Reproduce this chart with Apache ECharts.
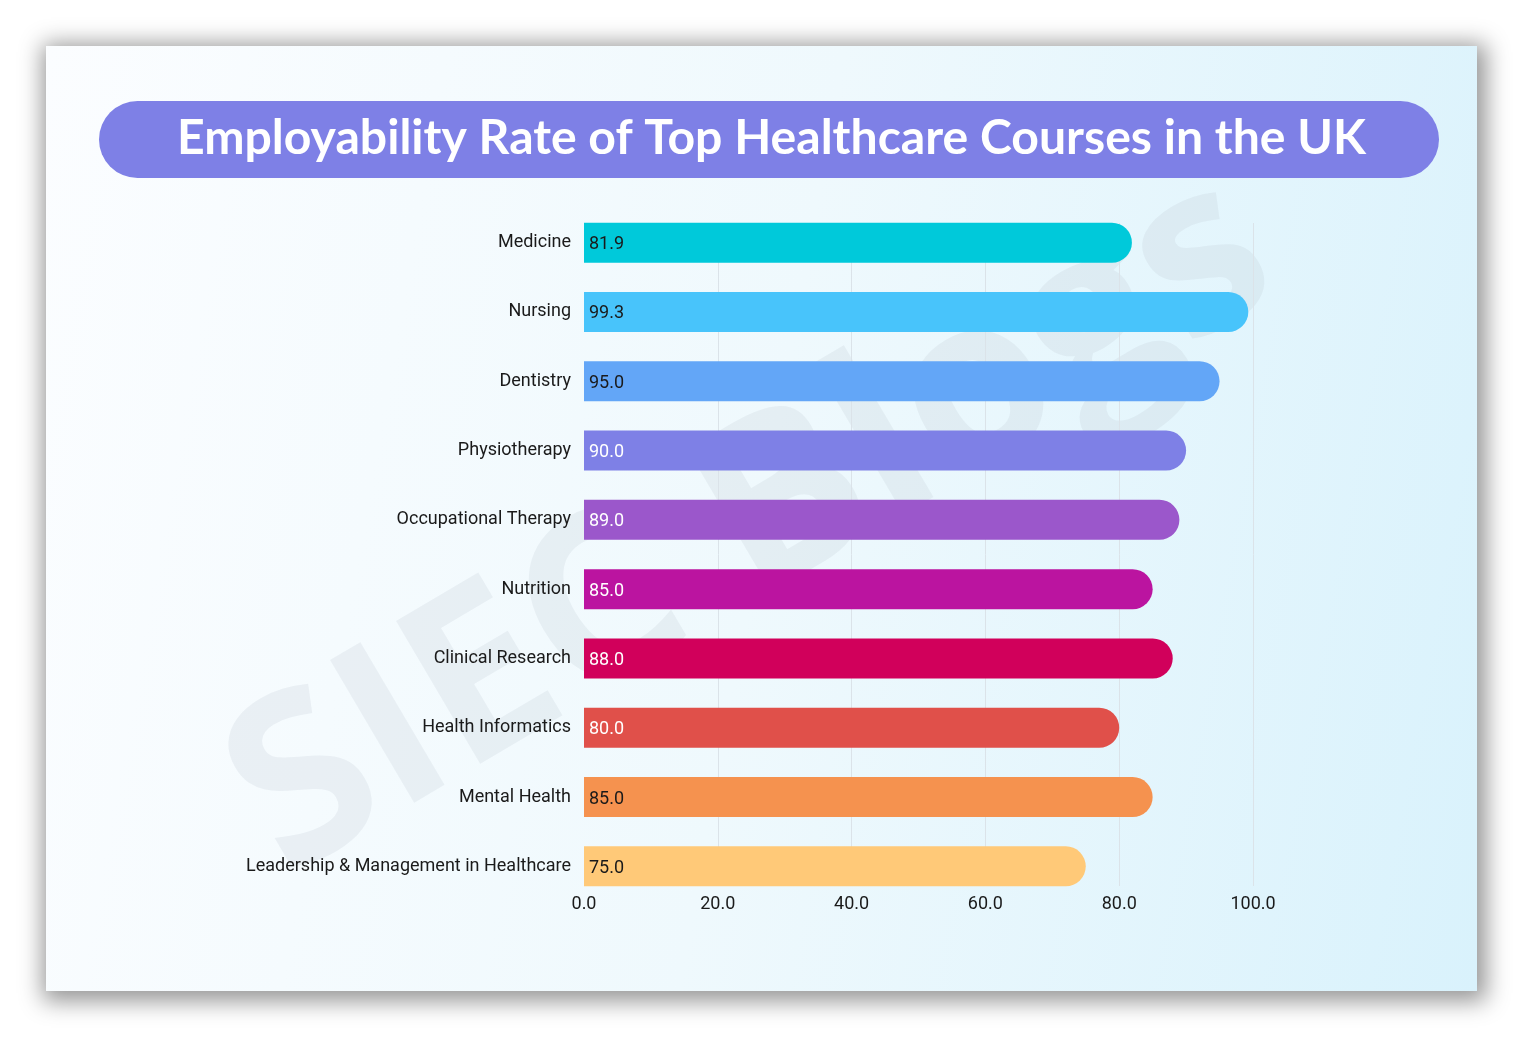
<!DOCTYPE html>
<html>
<head>
<meta charset="utf-8">
<script src="https://cdn.jsdelivr.net/npm/echarts@6/dist/echarts.min.js"></script>
<style>
  html, body { margin: 0; padding: 0; background: #ffffff; }
  #card {
    position: absolute; left: 46px; top: 46px; width: 1431px; height: 945px;
    background: linear-gradient(100deg, #fbfdff 0%, #eff9fd 50%, #d9f2fc 100%);
    box-shadow: 3px 4px 22px 6px rgba(0,0,0,0.42);
  }
  #chart { position: absolute; left: 0; top: 0; width: 1523px; height: 1037px; }
</style>
</head>
<body>
<div id="card"></div>
<div id="chart"></div>
<script>
const titleText = 'Employability Rate of Top Healthcare Courses in the UK';
const categories = ['Medicine', 'Nursing', 'Dentistry', 'Physiotherapy', 'Occupational Therapy',
  'Nutrition', 'Clinical Research', 'Health Informatics', 'Mental Health',
  'Leadership & Management in Healthcare'];
const values = [81.9, 99.3, 95.0, 90.0, 89.0, 85.0, 88.0, 80.0, 85.0, 75.0];
const barColors = ['#00c9da', '#48c4fb', '#63a6f7', '#7e80e6', '#9b57cb',
  '#bb14a0', '#d1005b', '#e0504a', '#f5924f', '#ffc978'];
const labelColors = ['#1a1a1a', '#1a1a1a', '#1a1a1a', '#ffffff', '#ffffff',
  '#ffffff', '#ffffff', '#ffffff', '#1a1a1a', '#1a1a1a'];
const xTicks = [0, 20, 40, 60, 80, 100];

const chart = echarts.init(document.getElementById('chart'), null, { renderer: 'canvas' });

const ctx = document.createElement('canvas').getContext('2d');
ctx.font = 'bold 47px Lato';
const tw = ctx.measureText(titleText).width;
const titleScale = 1189 / tw;

chart.setOption({
  backgroundColor: 'transparent',
  animation: false,
  graphic: [
    {
      type: 'text', z: 0,
      x: 752, y: 527, rotation: 30.5 * Math.PI / 180,
      style: {
        text: 'SIEC Blogs', x: 0, y: 0, align: 'center', verticalAlign: 'middle',
        font: 'bold 232px "Open Sans"', fill: 'rgba(185,195,205,0.2)'
      },
      silent: true
    },
    {
      type: 'rect', z: 1,
      shape: { x: 99, y: 101, width: 1340, height: 77, r: 38.5 },
      style: { fill: '#7e80e6' }
    },
    {
      type: 'text', z: 2,
      x: 771.5, y: 139, scaleX: titleScale,
      style: {
        text: titleText, x: 0, y: 0, align: 'center', verticalAlign: 'middle',
        font: 'bold 47px Lato', fill: '#ffffff'
      }
    }
  ],
  grid: [
    { left: 584, right: 270, top: 208, bottom: 136, outerBoundsMode: 'none', containLabel: false },
    { left: 584, right: 270, top: 223, bottom: 151, outerBoundsMode: 'none', containLabel: false }
  ],
  xAxis: [
    { gridIndex: 0, type: 'value', min: 0, max: 100, interval: 20, show: false },
    {
      gridIndex: 1, type: 'value', min: 0, max: 100, interval: 20,
      axisLine: { show: false }, axisTick: { show: false },
      splitLine: { show: true, showMinLine: false, lineStyle: { color: '#dbe3e9', width: 1 } },
      axisLabel: {
        margin: 9, fontFamily: 'Roboto', fontSize: 18, color: '#1a1a1a',
        formatter: v => v.toFixed(1)
      }
    }
  ],
  yAxis: [
    {
      gridIndex: 0, type: 'category', data: categories, inverse: true,
      axisLine: { show: false }, axisTick: { show: false }, splitLine: { show: false },
      axisLabel: { margin: 13, fontFamily: 'Roboto', fontSize: 18, color: '#1a1a1a', padding: [2, 0, 0, 0] }
    },
    { gridIndex: 1, type: 'value', min: 0, max: 1, show: false }
  ],
  series: [
    {
      type: 'scatter', xAxisIndex: 1, yAxisIndex: 1, data: [], silent: true
    },
    {
      type: 'bar', xAxisIndex: 0, yAxisIndex: 0, z: 3,
      barWidth: 40,
      data: values.map((v, i) => ({
        value: v,
        itemStyle: { color: barColors[i], borderRadius: [0, 20, 20, 0] },
        label: { color: labelColors[i] }
      })),
      label: {
        show: true, position: 'insideLeft', distance: 5, offset: [0, 2],
        fontFamily: 'Roboto', fontSize: 18,
        formatter: p => p.value.toFixed(1)
      }
    }
  ]
});
</script>
</body>
</html>
